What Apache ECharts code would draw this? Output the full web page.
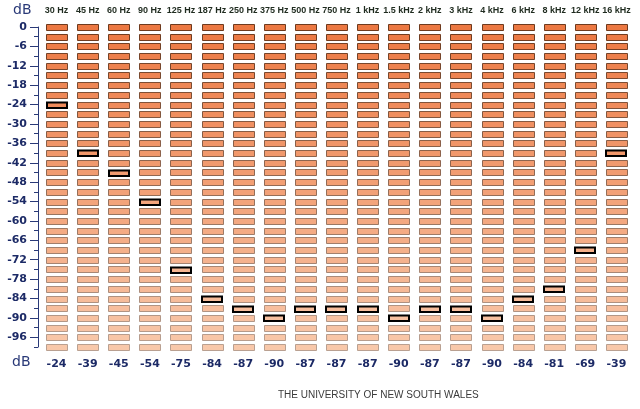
<!DOCTYPE html>
<html>
<head>
<meta charset="utf-8">
<script src="https://cdn.jsdelivr.net/npm/echarts@6/dist/echarts.min.js"></script>
<style>html,body{margin:0;padding:0;background:#fff;}#c{width:640px;height:409px;}</style>
</head>
<body>
<div id="c"></div>
<script>
// ---- data ----
var freqs = ['30 Hz','45 Hz','60 Hz','90 Hz','125 Hz','187 Hz','250 Hz','375 Hz','500 Hz','750 Hz','1 kHz','1.5 kHz','2 kHz','3 kHz','4 kHz','6 kHz','8 kHz','12 kHz','16 kHz'];
var thresholds = [-24,-39,-45,-54,-75,-84,-87,-90,-87,-87,-87,-90,-87,-87,-90,-84,-81,-69,-39];
var levels = [0,-3,-6,-9,-12,-15,-18,-21,-24,-27,-30,-33,-36,-39,-42,-45,-48,-51,-54,-57,-60,-63,-66,-69,-72,-75,-78,-81,-84,-87,-90,-93,-96,-99];
var majorTicks = [0,-6,-12,-18,-24,-30,-36,-42,-48,-54,-60,-66,-72,-78,-84,-90,-96];
var minorTicks = [-3,-9,-15,-21,-27,-33,-39,-45,-51,-57,-63,-69,-75,-81,-87,-93,-99];

var cells = [];
freqs.forEach(function (f, i) {
  levels.forEach(function (lv) {
    cells.push([i, lv, lv === thresholds[i] ? 1 : 0]);
  });
});

function mix(a, b, t) {
  var r = Math.round(a[0] + (b[0] - a[0]) * t);
  var g = Math.round(a[1] + (b[1] - a[1]) * t);
  var bl = Math.round(a[2] + (b[2] - a[2]) * t);
  return 'rgb(' + r + ',' + g + ',' + bl + ')';
}
var topFill = [236, 120, 66], botFill = [248, 200, 170];
var topStroke = [110, 58, 30], botStroke = [185, 160, 145];

var navy = '#1c2a66';
var chart = echarts.init(document.getElementById('c'), null, {renderer: 'canvas'});
chart.setOption({
  animation: false,
  backgroundColor: '#ffffff',
  grid: {left: 41, right: 8, top: 27, bottom: 62},
  xAxis: [{
    type: 'category', data: freqs, position: 'top',
    axisLine: {show: false}, axisTick: {show: false},
    axisLabel: {interval: 0, margin: 12, fontSize: 9, fontWeight: 'bold', color: '#1f2b1f',
      fontFamily: '"Liberation Sans Narrow","Liberation Sans",Arial,sans-serif'}
  }, {
    type: 'category', data: thresholds.map(String), position: 'bottom',
    axisLine: {show: false}, axisTick: {show: false},
    axisLabel: {interval: 0, margin: 12, fontSize: 11, fontWeight: 'bold', color: navy,
      fontFamily: '"DejaVu Sans",Verdana,sans-serif'}
  }],
  yAxis: [{
    type: 'value', min: -99, max: 0, offset: 3, position: 'left',
    splitLine: {show: false},
    axisLine: {show: true, lineStyle: {color: '#2a3a78', width: 1}},
    axisTick: {show: true, length: 8, customValues: majorTicks, lineStyle: {color: '#2a3a78'}},
    axisLabel: {margin: 11, fontSize: 11, fontWeight: 'bold', color: navy, customValues: majorTicks,
      fontFamily: '"DejaVu Sans",Verdana,sans-serif'}
  }, {
    type: 'value', min: -99, max: 0, offset: 3, position: 'left',
    splitLine: {show: false},
    axisLine: {show: false},
    axisTick: {show: true, length: 4, customValues: minorTicks, lineStyle: {color: '#2a3a78'}},
    axisLabel: {show: false}
  }],
  series: [{
    type: 'custom',
    xAxisIndex: 0, yAxisIndex: 0,
    data: cells,
    clip: false,
    renderItem: function (params, api) {
      var x = api.value(0), y = api.value(1), hl = api.value(2);
      var p = api.coord([x, y]);
      var t = -y / 99;
      var fill = mix(topFill, botFill, t);
      var stroke = mix(topStroke, botStroke, t);
      var w = hl ? 20 : 21, h = hl ? 5.4 : 6;
      return {
        type: 'rect',
        shape: {x: Math.round(p[0] - w / 2) + (hl ? 0 : 0.5), y: Math.round(p[1] - h / 2) + 0.5, width: w, height: h},
        style: {fill: fill, stroke: hl ? '#000000' : stroke, lineWidth: hl ? 2 : 1}
      };
    }
  }],
  graphic: [
    {type: 'text', left: 13, top: 3, style: {text: 'dB', fontSize: 14, fill: '#2a3a78', fontFamily: '"DejaVu Sans",sans-serif'}},
    {type: 'text', left: 12, top: 355, style: {text: 'dB', fontSize: 14, fill: '#2a3a78', fontFamily: '"DejaVu Sans",sans-serif'}},
    {type: 'text', left: 278, top: 390, style: {text: 'THE UNIVERSITY OF NEW SOUTH WALES', fontSize: 10, fill: '#3a3a3a', fontFamily: '"Liberation Sans",sans-serif'}}
  ]
});
</script>
</body>
</html>
